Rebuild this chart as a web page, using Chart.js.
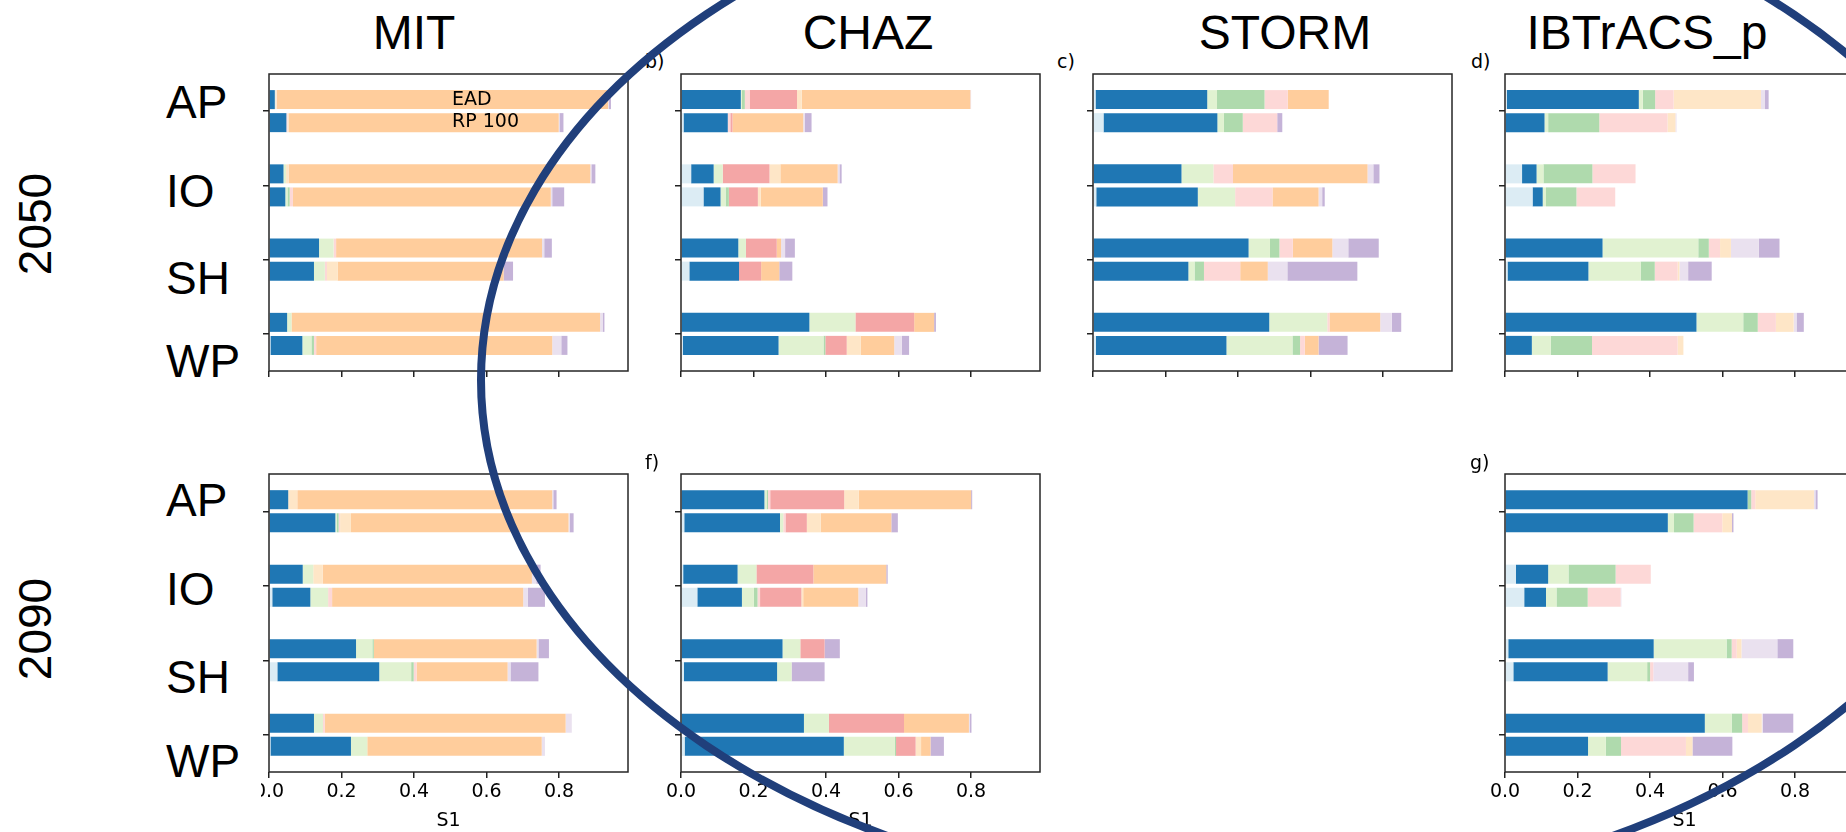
<!DOCTYPE html>
<html>
<head>
<meta charset="utf-8">
<script src="https://cdn.jsdelivr.net/npm/chart.js@4.4.1/dist/chart.umd.min.js"></script>
<style>
  html, body { margin: 0; padding: 0; background: #fff; }
  #page { position: relative; width: 1846px; height: 832px; overflow: hidden; background: #fff; }
  #page canvas { position: absolute; }
  .lbl { position: absolute; white-space: nowrap; color: #000; line-height: 1; }
  .big { font-family: 'Liberation Sans', Arial, sans-serif; font-size: 48px; }
  .mid { font-family: 'Liberation Sans', Arial, sans-serif; font-size: 46px; }
  .small { font-family: 'DejaVu Sans', sans-serif; font-size: 19px; }
  .c { transform: translate(-50%, -50%); }
  .l { transform: translate(0, -50%); }
  .rot { transform: translate(-50%, -50%) rotate(-90deg); }
</style>
</head>
<body>
<div id="page">
  <div class="lbl big c" style="left:414px;top:33px">MIT</div>
  <div class="lbl big c" style="left:868px;top:33px">CHAZ</div>
  <div class="lbl big c" style="left:1285px;top:33px">STORM</div>
  <div class="lbl big c" style="left:1647px;top:33px">IBTrACS_p</div>

  <div class="lbl mid rot" style="left:35px;top:224px">2050</div>
  <div class="lbl mid rot" style="left:35px;top:629px">2090</div>

  <div class="lbl mid l" style="left:166px;top:102px">AP</div>
  <div class="lbl mid l" style="left:166px;top:191px">IO</div>
  <div class="lbl mid l" style="left:166px;top:278px">SH</div>
  <div class="lbl mid l" style="left:166px;top:361px">WP</div>
  <div class="lbl mid l" style="left:166px;top:500px">AP</div>
  <div class="lbl mid l" style="left:166px;top:589px">IO</div>
  <div class="lbl mid l" style="left:166px;top:677px">SH</div>
  <div class="lbl mid l" style="left:166px;top:761px">WP</div>

  <div class="lbl small l" style="left:645px;top:61px">b)</div>
  <div class="lbl small l" style="left:1057px;top:61px">c)</div>
  <div class="lbl small l" style="left:1471px;top:61px">d)</div>
  <div class="lbl small l" style="left:645px;top:462px">f)</div>
  <div class="lbl small l" style="left:1470px;top:462px">g)</div>

  <div class="lbl small l" style="left:452px;top:98px">EAD</div>
  <div class="lbl small l" style="left:452px;top:120px">RP 100</div>

  <svg width="1846" height="832" style="position:absolute;left:0;top:0;pointer-events:none">
    <ellipse cx="1250" cy="380" rx="769" ry="517" fill="none" stroke="#203f7b" stroke-width="8"/>
  </svg>
</div>

<script>
const regions = ['AP', 'IO', 'SH', 'WP']
const metrics = ['EAD', 'RP 100']
const xTicks = [0, 0.2, 0.4, 0.6, 0.8]
const segColors = ['#dcecf4', '#1f77b4', '#e1f2d1', '#afdaad', '#fdd8d7',
                   '#f4a6a6', '#fee6c7', '#ffcd9c', '#eae1ef', '#c5b3d8']

// rows: AP EAD, AP RP100, IO EAD, IO RP100, SH EAD, SH RP100, WP EAD, WP RP100
// each row: the 10 stacked parts from left to right
const mit2050 = [
    [0, .016, .002, 0, .002, 0, .002, .913, .002, .006],
    [0, .048, 0, 0, .003, 0, .004, .744, .002, .011],
    [0, .040, .007, 0, 0, 0, .007, .832, .003, .011],
    [0, .045, .006, .006, .009, 0, 0, .711, .004, .033],
    [0, .138, .040, 0, .007, 0, 0, .568, .006, .021],
    [0, .124, .030, 0, .006, 0, .029, .458, 0, .026],
    [0, .050, .012, 0, 0, 0, 0, .851, .007, .005],
    [.004, .088, .025, .007, .006, 0, 0, .651, .025, .017]
]
const chaz2050 = [
    [0, .165, .003, .008, .013, .131, .013, .465, .002, 0],
    [.007, .122, 0, 0, .007, .006, 0, .195, .005, .018],
    [.028, .062, .025, 0, 0, .129, .030, .158, .005, .006],
    [.062, .047, .014, .009, 0, .080, .008, .171, 0, .013],
    [0, .158, .021, 0, 0, .085, 0, .012, .011, .027],
    [.023, .137, 0, 0, 0, .061, 0, .050, 0, .036],
    [0, .354, .127, 0, 0, .162, 0, .055, 0, .005],
    [.005, .264, .124, .005, 0, .059, .039, .092, .021, .020]
]
const storm2050 = [
    [.007, .308, .027, .131, .064, 0, 0, .113, 0, 0],
    [.029, .314, .018, .052, .095, 0, 0, 0, 0, .014],
    [0, .244, .088, 0, .054, 0, 0, .371, .016, .017],
    [.009, .280, .103, 0, .103, 0, 0, .127, .010, .007],
    [0, .429, .059, .026, .037, 0, 0, .109, .044, .084],
    [0, .263, .017, .026, .100, 0, 0, .076, .054, .193],
    [0, .486, .160, 0, .006, 0, 0, .140, .032, .026],
    [.008, .360, .182, .021, .013, 0, 0, .038, 0, .080]
]
const ibtracs2050 = [
    [.005, .364, .011, .034, .051, 0, .241, 0, .011, .010],
    [0, .109, .010, .141, .188, 0, .022, 0, .003, 0],
    [.047, .040, .019, .135, .119, 0, 0, 0, 0, 0],
    [.076, .028, .009, .084, .107, 0, 0, 0, 0, 0],
    [0, .269, .264, .029, .031, 0, .030, 0, .077, .057],
    [.007, .223, .144, .039, .063, 0, .005, 0, .024, .065],
    [0, .528, .129, .040, .050, 0, .049, 0, .008, .020],
    [0, .074, .052, .114, .236, 0, .016, 0, 0, 0]
]
const mit2090 = [
    [0, .053, 0, 0, 0, 0, .025, .703, .003, .009],
    [0, .183, .004, .005, .004, 0, .030, .600, .003, .011],
    [0, .093, .029, 0, 0, 0, .026, .577, .012, .012],
    [.009, .105, .049, 0, .011, 0, 0, .527, .013, .047],
    [0, .240, .045, .004, 0, 0, 0, .449, .005, .029],
    [.023, .281, .088, .007, .008, 0, 0, .251, .008, .077],
    [0, .124, .025, 0, .005, 0, 0, .664, .017, 0],
    [.004, .222, .045, 0, 0, 0, 0, .481, .009, 0]
]
const chaz2090 = [
    [0, .230, .006, .004, .006, .204, .040, .310, 0, .003],
    [.009, .264, .009, 0, .006, .059, .038, .195, 0, .018],
    [.006, .150, .052, 0, 0, .157, 0, .201, 0, .004],
    [.045, .123, .033, .010, .007, .114, .005, .152, .021, .004],
    [0, .280, .049, 0, 0, .067, 0, 0, 0, .042],
    [.008, .257, .040, 0, 0, 0, 0, 0, 0, .091],
    [0, .339, .069, 0, 0, .207, 0, .179, .003, .004],
    [.010, .439, .141, .003, 0, .054, .015, .026, 0, .037]
]
const ibtracs2090 = [
    [0, .669, 0, .010, .011, 0, .162, 0, .004, .006],
    [0, .449, .017, .054, .079, 0, .027, 0, 0, .004],
    [.030, .089, .056, .130, .097, 0, 0, 0, 0, 0],
    [.053, .060, .029, .086, .091, 0, 0, 0, .002, 0],
    [.009, .401, .201, .014, .014, 0, .013, 0, .099, .044],
    [.023, .260, .109, .008, .009, 0, 0, 0, .096, .016],
    [0, .551, .074, .029, .016, 0, .038, 0, .003, .084],
    [0, .229, .049, .042, .179, 0, .018, 0, 0, .110]
]

const page = document.getElementById('page')
const FRAME_W = 359

const framePlugin = {
    id: 'frame',
    afterDraw(chart) {
        const { ctx, chartArea: a } = chart
        ctx.save()
        ctx.strokeStyle = '#262626'
        ctx.lineWidth = 1.5
        ctx.strokeRect(a.left, a.top, a.right - a.left, a.bottom - a.top)
        ctx.restore()
    }
}

// padLeft: room kept left of the y axis (MIT keeps none, so its "0.0" gets cut like in the figure)
function makePanel(rows, left, top, height, withLabels, padLeft) {
    const axisH = withLabels ? 60 : 8
    const cv = document.createElement('canvas')
    cv.width = padLeft + 8 + FRAME_W + 2
    cv.height = 2 + height + axisH
    cv.style.left = (left - 8 - padLeft) + 'px'
    cv.style.top = (top - 2) + 'px'
    page.insertBefore(cv, page.firstChild)

    const datasets = []
    metrics.forEach((m, mi) => {
        segColors.forEach((col, k) => {
            datasets.push({
                label: m + ' ' + k,
                stack: m,
                data: regions.map((r, ri) => rows[ri * 2 + mi][k]),
                backgroundColor: col,
                borderWidth: 0,
                categoryPercentage: 0.62,
                barPercentage: 0.826
            })
        })
    })

    const smallFont = { family: 'DejaVu Sans', size: 19 }

    new Chart(cv, {
        type: 'bar',
        data: { labels: regions, datasets: datasets },
        options: {
            indexAxis: 'y',
            responsive: false,
            animation: false,
            devicePixelRatio: 1,
            layout: { padding: { left: padLeft, top: 2, right: 2, bottom: 0 } },
            plugins: { legend: { display: false }, tooltip: { enabled: false } },
            scales: {
                x: {
                    type: 'linear',
                    stacked: true,
                    min: 0,
                    max: 0.99,
                    afterBuildTicks: s => { s.ticks = xTicks.map(v => ({ value: v })) },
                    afterFit: s => { s.height = axisH; s.paddingLeft = 0; s.paddingRight = 0 },
                    ticks: {
                        display: withLabels,
                        padding: 3,
                        color: '#000',
                        font: smallFont,
                        maxRotation: 0,
                        autoSkip: false,
                        callback: v => v.toFixed(1)
                    },
                    grid: { drawOnChartArea: false, drawTicks: true, tickLength: 6, color: '#222', lineWidth: 1.5 },
                    border: { display: false },
                    title: { display: withLabels, text: 'S1', color: '#000', font: smallFont, padding: 0 }
                },
                y: {
                    type: 'category',
                    stacked: true,
                    offset: true,
                    afterFit: s => { s.width = 8; s.paddingTop = 0; s.paddingBottom = 0 },
                    ticks: { display: false },
                    grid: { offset: false, drawOnChartArea: false, drawTicks: true, tickLength: 6, color: '#222', lineWidth: 1.5 },
                    border: { display: false }
                }
            }
        },
        plugins: [framePlugin]
    })
}

makePanel(mit2050, 269, 74, 297, false, 0)
makePanel(chaz2050, 681, 74, 297, false, 20)
makePanel(storm2050, 1093, 74, 297, false, 20)
makePanel(ibtracs2050, 1505, 74, 297, false, 20)
makePanel(mit2090, 269, 474, 298, true, 0)
makePanel(chaz2090, 681, 474, 298, true, 20)
makePanel(ibtracs2090, 1505, 474, 298, true, 20)
</script>
</body>
</html>
